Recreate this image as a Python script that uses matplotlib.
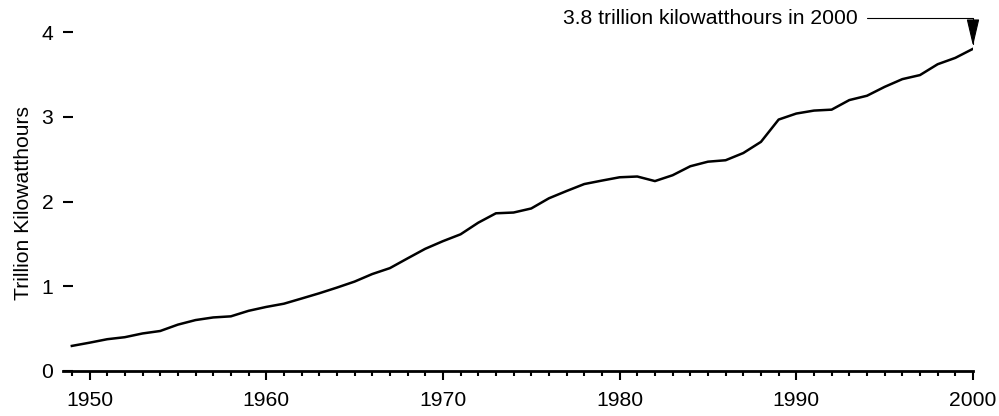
import matplotlib
matplotlib.use("Agg")
import matplotlib.pyplot as plt
from matplotlib.ticker import MultipleLocator

years = list(range(1949, 2001))
generation = [0.296, 0.334, 0.375, 0.399, 0.443, 0.472, 0.547, 0.601, 0.632, 0.645,
              0.710, 0.756, 0.794, 0.855, 0.917, 0.984, 1.055, 1.144, 1.214, 1.329,
              1.442, 1.532, 1.613, 1.750, 1.861, 1.870, 1.918, 2.038, 2.124, 2.206,
              2.247, 2.286, 2.295, 2.241, 2.310, 2.416, 2.470, 2.487, 2.572, 2.704,
              2.967, 3.038, 3.073, 3.084, 3.197, 3.248, 3.353, 3.444, 3.492, 3.620,
              3.695, 3.802]
x_ticks = [1950, 1960, 1970, 1980, 1990, 2000]
y_ticks = [0, 1, 2, 3, 4]
annotation_text = "3.8 trillion kilowatthours in 2000"
y_label = "Trillion Kilowatthours"

plt.rcParams['font.family'] = ['Liberation Sans', 'DejaVu Sans']
FS = 15.2

fig = plt.figure(figsize=(9.99, 4.16), dpi=100)
ax = fig.add_axes([63/999, 45/416, 910/999, 364.4/416])

ax.plot(years, generation, color='black', lw=1.8, solid_joinstyle='round')

ax.set_xlim(1948.5, 2000)
ax.set_ylim(0, 4.3)

for s in ['top', 'right', 'left']:
    ax.spines[s].set_visible(False)
ax.spines['bottom'].set_linewidth(2)

ax.set_xticks(x_ticks)
ax.xaxis.set_minor_locator(MultipleLocator(1))
ax.set_yticks(y_ticks)
ax.tick_params(axis='x', which='major', direction='out', length=6.5, width=1.5, pad=8, labelsize=FS)
ax.tick_params(axis='x', which='minor', direction='out', length=3.6, width=1.5)
ax.tick_params(axis='y', which='major', direction='in', length=7.2, width=1.5, pad=7, labelsize=FS)

fig.text(24/999, 1 - 203/416, y_label, rotation=90, ha='center', va='center', fontsize=FS)

ax.annotate(annotation_text, xy=(2000, generation[-1]), xytext=(1993.46, 4.16),
            ha='right', va='center', fontsize=FS,
            arrowprops=dict(arrowstyle='-|>,head_length=1.7,head_width=0.4',
                            connectionstyle='angle,angleA=0,angleB=90,rad=0',
                            color='black', lw=0.8, mutation_scale=10,
                            shrinkA=5, shrinkB=2))

fig.savefig("out.png", dpi=100)
